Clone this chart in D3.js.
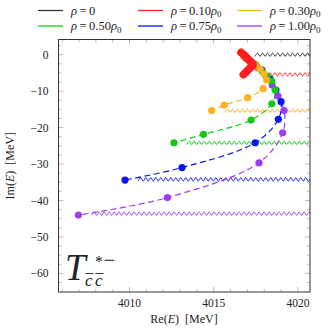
<!DOCTYPE html>
<html>
<head>
<meta charset="utf-8">
<script src="https://cdn.jsdelivr.net/npm/d3@7"></script>
<style>
  body { margin: 0; background: #fff; }
  text { font-family: "Liberation Serif", "DejaVu Serif", serif; fill: #222; }
</style>
</head>
<body>
<script>
// density labels in the legend
const rhoLabels = ["0", "0.10", "0.30", "0.50", "0.75", "1.00"];
const colors = ["#333333", "#ff1f1f", "#ffb21f", "#16c816", "#0a14ee", "#9b3cf4"];

// pole trajectories (Re E, Im E) in MeV
const rho010Re = [4016.63, 4016.77, 4016.92, 4017.07, 4017.22, 4017.34, 4017.22, 4017.07, 4016.92, 4016.77];
const rho010Im = [0.60, 0.05, -0.63, -1.32, -2.00, -2.69, -3.38, -4.06, -4.75, -5.44];
const rho030Re = [4016.80, 4017.16, 4017.46, 4017.75, 4017.99, 4018.14, 4017.93, 4017.01, 4015.62, 4014.88];
const rho030Im = [-0.63, -2.00, -2.83, -3.93, -5.30, -6.94, -9.33, -11.80, -13.81, -15.32];
const rho050Re = [4016.98, 4017.52, 4017.87, 4018.17, 4018.45, 4018.65, 4018.45, 4017.22, 4014.39, 4012.64];
const rho050Im = [-0.91, -2.83, -4.47, -5.85, -7.22, -9.69, -13.45, -17.92, -21.85, -24.16];
const rho075Re = [4016.92, 4017.40, 4017.87, 4018.35, 4018.70, 4019.00, 4018.84, 4017.46, 4013.12, 4009.73];
const rho075Im = [-0.91, -2.55, -4.20, -6.67, -9.69, -12.90, -17.73, -24.16, -30.96, -34.39];
const rho100Re = [4017.04, 4017.64, 4018.11, 4018.47, 4018.82, 4019.18, 4019.10, 4017.69, 4012.25, 4006.96];
const rho100Im = [-1.18, -3.65, -5.85, -8.32, -11.34, -15.32, -21.41, -29.65, -39.20, -44.00];

// start of the threshold cuts for each density
const cutRe = [4017.46, 4017.90, 4015.67, 4013.40, 4010.52, 4007.75];
const cutIm = [0, -5.4, -15.4, -24.2, -34.2, -43.6];

const xMajor = [4010, 4015, 4020];
const yMajor = [0, -10, -20, -30, -40, -50, -60];

const W = 336, H = 332;
const pLeft = 58.5, pRight = 310, pTop = 39.5, pBottom = 292;

const svg = d3.select("body").append("svg")
    .attr("width", W)
    .attr("height", H);

const x = d3.scaleLinear().domain([4005.78, 4020.72]).range([pLeft, pRight]);
const y = d3.scaleLinear().domain([4.17, -65.1]).range([pTop, pBottom]);

svg.append("clipPath").attr("id", "clip")
    .append("rect")
    .attr("x", pLeft).attr("y", pTop)
    .attr("width", pRight - pLeft).attr("height", pBottom - pTop);

// ticks (inward, on all four sides)
const xMinor = d3.range(4006, 4021, 1).filter(v => !xMajor.includes(v));
const yMinor = d3.range(2.5, -65, -2.5).filter(v => !yMajor.includes(v));
const ticks = svg.append("g").attr("stroke", "#aaa").attr("stroke-width", 0.8);
xMajor.forEach(v => {
    ticks.append("line").attr("x1", x(v)).attr("x2", x(v)).attr("y1", pBottom).attr("y2", pBottom - 5);
    ticks.append("line").attr("x1", x(v)).attr("x2", x(v)).attr("y1", pTop).attr("y2", pTop + 5);
});
xMinor.forEach(v => {
    ticks.append("line").attr("x1", x(v)).attr("x2", x(v)).attr("y1", pBottom).attr("y2", pBottom - 3);
    ticks.append("line").attr("x1", x(v)).attr("x2", x(v)).attr("y1", pTop).attr("y2", pTop + 3);
});
yMajor.forEach(v => {
    ticks.append("line").attr("y1", y(v)).attr("y2", y(v)).attr("x1", pLeft).attr("x2", pLeft + 5);
    ticks.append("line").attr("y1", y(v)).attr("y2", y(v)).attr("x1", pRight).attr("x2", pRight - 5);
});
yMinor.forEach(v => {
    ticks.append("line").attr("y1", y(v)).attr("y2", y(v)).attr("x1", pLeft).attr("x2", pLeft + 3);
    ticks.append("line").attr("y1", y(v)).attr("y2", y(v)).attr("x1", pRight).attr("x2", pRight - 3);
});

// tick labels
svg.append("g").selectAll("text")
    .data(xMajor)
    .enter().append("text")
    .attr("x", d => x(d))
    .attr("y", pBottom + 15)
    .attr("text-anchor", "middle")
    .style("font-size", "11.5px")
    .text(d => d);

svg.append("g").selectAll("text")
    .data(yMajor)
    .enter().append("text")
    .attr("x", pLeft - 10)
    .attr("y", d => y(d) + 4)
    .attr("text-anchor", "end")
    .style("font-size", "11.5px")
    .text(d => d < 0 ? "\u2212" + (-d) : d);

// axis titles
const xt = svg.append("text")
    .attr("x", 184).attr("y", 323)
    .attr("text-anchor", "middle")
    .style("font-size", "12px");
xt.append("tspan").text("Re(");
xt.append("tspan").style("font-style", "italic").text("E");
xt.append("tspan").text(")\u2002[MeV]");

const yt = svg.append("text")
    .attr("transform", "translate(14," + ((pTop + pBottom) / 2) + ") rotate(-90)")
    .attr("text-anchor", "middle")
    .style("font-size", "12px");
yt.append("tspan").text("Im(");
yt.append("tspan").style("font-style", "italic").text("E");
yt.append("tspan").text(")\u2002[MeV]");

const plot = svg.append("g").attr("clip-path", "url(#clip)");

// threshold cuts drawn as zigzags
const zig = d3.line().curve(d3.curveCatmullRom);
cutRe.forEach((re, i) => {
    const x0 = x(re), y0 = y(cutIm[i]);
    const pts = d3.range(x0, pRight + 3, 2.5).map((px, k) => [px, y0 + (k % 2 ? -1.7 : 1.7)]);
    plot.append("path")
        .attr("d", zig(pts))
        .attr("fill", "none")
        .attr("stroke", colors[i])
        .attr("stroke-width", 1);
});

// trajectories
const series = [
    { re: rho100Re, im: rho100Im, c: colors[5] },
    { re: rho075Re, im: rho075Im, c: colors[4] },
    { re: rho050Re, im: rho050Im, c: colors[3] },
    { re: rho030Re, im: rho030Im, c: colors[2] }
];
const curve = d3.line().x(d => x(d[0])).y(d => y(d[1])).curve(d3.curveCatmullRom);
series.forEach(s => {
    const pts = s.re.map((r, k) => [r, s.im[k]]);
    plot.append("path")
        .attr("d", curve(pts))
        .attr("fill", "none")
        .attr("stroke", s.c)
        .attr("stroke-width", 1.2)
        .attr("stroke-dasharray", "6,3.5");
});
series.forEach(s => {
    plot.append("g").selectAll("circle")
        .data(s.re.map((r, k) => [r, s.im[k]]))
        .enter().append("circle")
        .attr("cx", d => x(d[0]))
        .attr("cy", d => y(d[1]))
        .attr("r", 3.6)
        .attr("fill", s.c);
});

// rho = 0.10: densely sampled, looks like a thick stroke
const redPts = rho010Re.map((r, k) => [r, rho010Im[k]]);
plot.append("path")
    .attr("d", curve(redPts))
    .attr("fill", "none")
    .attr("stroke", colors[1])
    .attr("stroke-width", 8)
    .attr("stroke-linecap", "round")
    .attr("stroke-linejoin", "round");

// frame
svg.append("rect")
    .attr("x", pLeft).attr("y", pTop)
    .attr("width", pRight - pLeft).attr("height", pBottom - pTop)
    .attr("fill", "none")
    .attr("stroke", "#333")
    .attr("stroke-width", 1);

// label T^{*-}_{cc}
svg.append("text")
    .attr("x", 65).attr("y", 280)
    .style("font-size", "37px")
    .style("font-style", "italic")
    .text("T");
const sup = svg.append("text")
    .attr("x", 95).attr("y", 267);
sup.append("tspan").style("font-size", "16px").text("*");
sup.append("tspan").attr("dx", 0.5).style("font-size", "21px").text("\u2212");
[85, 95].forEach(cx => {
    svg.append("text")
        .attr("x", cx).attr("y", 286)
        .style("font-size", "17px")
        .style("font-style", "italic")
        .text("c");
    svg.append("line")
        .attr("x1", cx + 0.5).attr("x2", cx + 8.5)
        .attr("y1", 273.5).attr("y2", 273.5)
        .attr("stroke", "#222")
        .attr("stroke-width", 0.9);
});

// legend
const legX = [38, 138, 237];
const legY = [10.5, 26];
rhoLabels.forEach((lab, i) => {
    const lx = legX[i % 3], ly = legY[Math.floor(i / 3)];
    svg.append("line")
        .attr("x1", lx).attr("x2", lx + 25)
        .attr("y1", ly).attr("y2", ly)
        .attr("stroke", colors[i])
        .attr("stroke-width", 1.3);
    const t = svg.append("text")
        .attr("x", lx + 33).attr("y", ly + 4)
        .style("font-size", "12.5px");
    t.append("tspan").style("font-style", "italic").text("\u03c1");
    t.append("tspan").text("\u2009=\u2009" + lab);
    if (lab !== "0") {
        t.append("tspan").style("font-style", "italic").text("\u03c1");
        t.append("tspan").attr("dy", 2.5).style("font-size", "9px").text("0");
    }
});
</script>
</body>
</html>
